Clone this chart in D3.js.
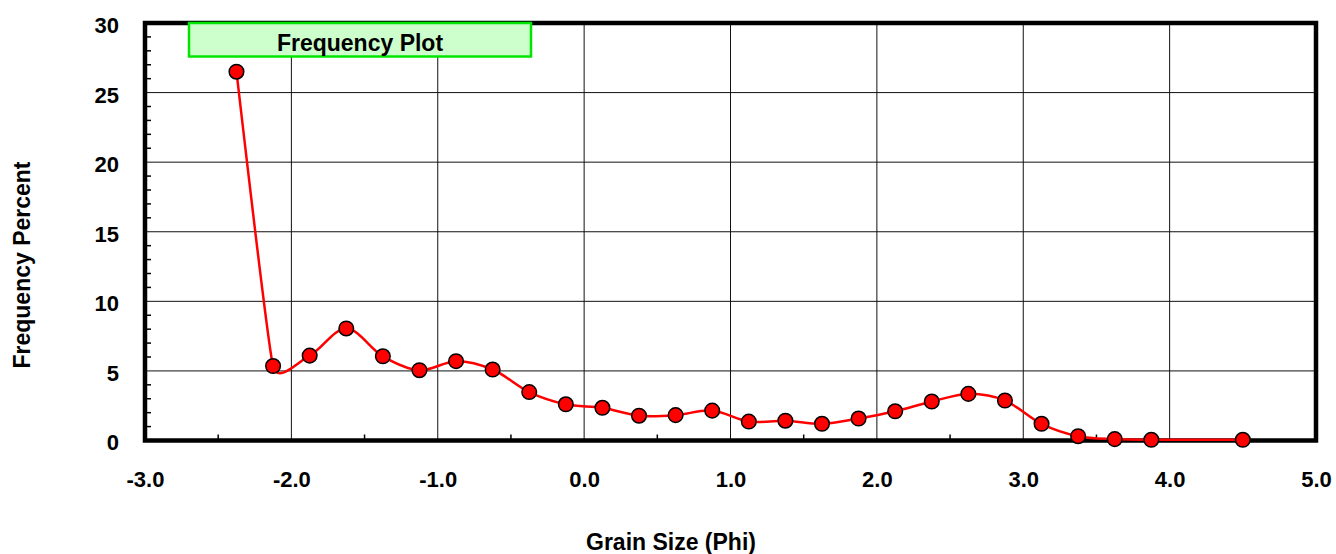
<!DOCTYPE html>
<html>
<head>
<meta charset="utf-8">
<script src="https://cdn.jsdelivr.net/npm/d3@7"></script>
<style>
  html, body { margin: 0; padding: 0; background: #fff; }
  svg { display: block; }
  text { font-family: "Liberation Sans", Arial, sans-serif; font-weight: bold; fill: #000; }
</style>
</head>
<body>
<svg id="chart" width="1336" height="554"></svg>
<script>
// ---- data ----
const phi = [-2.375, -2.125, -1.875, -1.625, -1.375, -1.125, -0.875, -0.625, -0.375, -0.125,
             0.125, 0.375, 0.625, 0.875, 1.125, 1.375, 1.625, 1.875, 2.125, 2.375,
             2.625, 2.875, 3.125, 3.375, 3.625, 3.875, 4.5];
const freqPercent = [26.5, 5.35, 6.1, 8.05, 6.05, 5.05, 5.7, 5.1, 3.48, 2.6,
                     2.35, 1.78, 1.82, 2.15, 1.36, 1.42, 1.2, 1.58, 2.1, 2.8,
                     3.35, 2.87, 1.2, 0.31, 0.1, 0.05, 0.05];
const xTicks = [-3, -2, -1, 0, 1, 2, 3, 4, 5];
const xTickLabels = ["-3.0", "-2.0", "-1.0", "0.0", "1.0", "2.0", "3.0", "4.0", "5.0"];
const yTicks = [0, 5, 10, 15, 20, 25, 30];
const yTickLabels = ["0", "5", "10", "15", "20", "25", "30"];
const xMinorTicks = [-2.5, -1.5, -0.5, 0.5, 1.5, 2.5, 3.5, 4.5];
const yMinorTicks = [1,2,3,4,6,7,8,9,11,12,13,14,16,17,18,19,21,22,23,24,26,27,28,29];
const xTitle = "Grain Size (Phi)";
const yTitle = "Frequency Percent";
const legendLabel = "Frequency Plot";

// ---- layout ----
const svg = d3.select("#chart");
const L = 145, R = 1316, T = 23, B = 440.5;
const x = d3.scaleLinear().domain([-3, 5]).range([L, R]);
const y = d3.scaleLinear().domain([0, 30]).range([B, T]);
const FONT = '"Liberation Sans", Arial, sans-serif';

// gridlines
svg.append("g").selectAll("line").data(xTicks.filter(d => d > -3 && d < 5)).join("line")
  .attr("x1", d => x(d)).attr("x2", d => x(d)).attr("y1", T).attr("y2", B)
  .attr("stroke", "#111").attr("stroke-width", 1);
svg.append("g").selectAll("line").data(yTicks.filter(d => d > 0 && d < 30)).join("line")
  .attr("x1", L).attr("x2", R).attr("y1", d => y(d)).attr("y2", d => y(d))
  .attr("stroke", "#111").attr("stroke-width", 1);

// minor ticks (inward)
svg.append("g").selectAll("line").data(xMinorTicks).join("line")
  .attr("x1", d => x(d)).attr("x2", d => x(d)).attr("y1", B).attr("y2", B - 6)
  .attr("stroke", "#000").attr("stroke-width", 1.5);
svg.append("g").selectAll("line").data(yMinorTicks).join("line")
  .attr("x1", L).attr("x2", L + 6).attr("y1", d => y(d)).attr("y2", d => y(d))
  .attr("stroke", "#000").attr("stroke-width", 1.5);

// axes labels via d3 axes
const xAxis = d3.axisBottom(x).tickValues(xTicks).tickSize(0).tickPadding(31)
  .tickFormat((d, i) => xTickLabels[i]);
const gx = svg.append("g").attr("transform", `translate(0,${B})`).call(xAxis);
gx.select(".domain").remove();
gx.selectAll("text").attr("font-size", 22).style("font-family", FONT).style("font-weight", "bold").attr("fill", "#000");

const yAxis = d3.axisLeft(y).tickValues(yTicks).tickSize(0).tickPadding(26)
  .tickFormat((d, i) => yTickLabels[i]);
const gy = svg.append("g").attr("transform", `translate(${L},0)`).call(yAxis);
gy.select(".domain").remove();
gy.selectAll("text").attr("font-size", 22).attr("dy", "0.43em").style("font-family", FONT).style("font-weight", "bold").attr("fill", "#000");

// frame
svg.append("rect").attr("x", L).attr("y", T).attr("width", R - L).attr("height", B - T)
  .attr("fill", "none").attr("stroke", "#000").attr("stroke-width", 4.5);

// smoothed line (spreadsheet-style Bezier smoothing)
const pts = phi.map((p, i) => [x(p), y(freqPercent[i])]);
function smoothPath(P) {
  const n = P.length;
  const dist = (a, b) => Math.hypot(b[0] - a[0], b[1] - a[1]);
  const handles = P.map((p, i) => {
    if (i === 0 || i === n - 1) return [0, 0];
    const a = P[i - 1], b = P[i + 1];
    const d02 = dist(a, b), d01 = dist(a, p), d12 = dist(p, b);
    if (d02 === 0) return [0, 0];
    const len = Math.min(d02 / 6, d01 / 2, d12 / 2);
    return [(b[0] - a[0]) / d02 * len, (b[1] - a[1]) / d02 * len];
  });
  const path = d3.path();
  path.moveTo(P[0][0], P[0][1]);
  for (let i = 0; i < n - 1; i++) {
    const p1 = P[i], p2 = P[i + 1], h1 = handles[i], h2 = handles[i + 1];
    path.bezierCurveTo(p1[0] + h1[0], p1[1] + h1[1], p2[0] - h2[0], p2[1] - h2[1], p2[0], p2[1]);
  }
  return path.toString();
}
svg.append("path").attr("d", smoothPath(pts))
  .attr("fill", "none").attr("stroke", "#ff0000").attr("stroke-width", 2.5);

// markers
svg.append("g").selectAll("circle").data(pts).join("circle")
  .attr("cx", d => d[0]).attr("cy", d => d[1]).attr("r", 7.3)
  .attr("fill", "#ff0000").attr("stroke", "#000").attr("stroke-width", 1.5);

// legend box
svg.append("rect").attr("x", 189).attr("y", 23).attr("width", 342).attr("height", 33.5)
  .attr("fill", "#ccffcc").attr("stroke", "#00e600").attr("stroke-width", 2.5);
svg.append("text").attr("x", 360).attr("y", 50.5).attr("text-anchor", "middle")
  .attr("font-size", 23).text(legendLabel);

// titles
svg.append("text").attr("x", 671).attr("y", 550).attr("text-anchor", "middle")
  .attr("font-size", 23).text(xTitle);
svg.append("text").attr("transform", "translate(30,265) rotate(-90)").attr("text-anchor", "middle")
  .attr("font-size", 23).text(yTitle);
</script>
</body>
</html>
